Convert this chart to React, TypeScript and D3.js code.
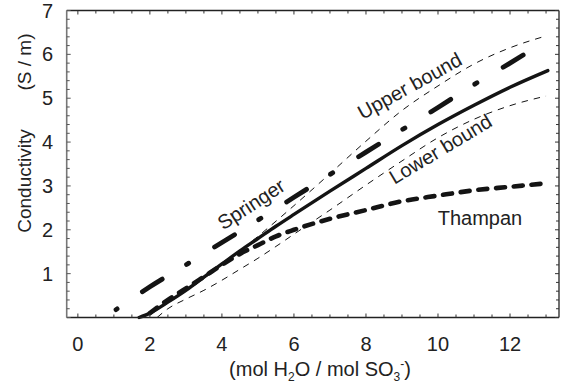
import React from "react";
import * as d3 from "d3";

// ---- data ----
const xTicks = [0, 2, 4, 6, 8, 10, 12];
const yTicks = [1, 2, 3, 4, 5, 6, 7];

const modelX = [1.7, 2, 2.5, 3, 3.5, 4, 4.5, 5, 5.5, 6, 7, 8, 9, 10, 11, 12, 13.05];
const modelY = [0, 0.1, 0.35, 0.62, 0.92, 1.22, 1.52, 1.8, 2.08, 2.35, 2.88, 3.4, 3.92, 4.4, 4.84, 5.25, 5.63];

const upperX = [1.7, 2, 3, 4, 5, 6, 7, 8, 9, 10, 11, 12, 13];
const upperY = [0, 0.1, 0.6, 1.2, 1.85, 2.55, 3.28, 4.02, 4.72, 5.28, 5.78, 6.15, 6.42];

const lowerX = [2.2, 2.5, 3, 3.5, 4, 4.5, 5, 5.5, 6, 7, 8, 9, 10, 11, 12, 13];
const lowerY = [0, 0.2, 0.42, 0.62, 0.85, 1.1, 1.35, 1.62, 1.9, 2.45, 3.02, 3.57, 4.1, 4.52, 4.83, 5.05];

const springerX = [1.06, 2, 3, 4, 5, 6, 7, 8, 9, 10, 11, 12, 13];
const springerY = [0.18, 0.7, 1.2, 1.71, 2.22, 2.74, 3.26, 3.77, 4.28, 4.79, 5.31, 5.8, 6.31];

const thampanX = [2.0, 2.5, 3, 3.5, 4, 4.5, 5, 5.5, 6, 7, 8, 9, 10, 11, 12, 13];
const thampanY = [0.1, 0.4, 0.66, 0.93, 1.2, 1.45, 1.65, 1.85, 2.0, 2.25, 2.45, 2.65, 2.78, 2.9, 2.98, 3.06];

const W = 564;
const H = 386;
const FONT = "'Liberation Sans', Arial, sans-serif";

export default function App() {
  const x = d3.scaleLinear().domain([-0.31, 13.36]).range([66.7, 559]);
  const y = d3.scaleLinear().domain([0, 7]).range([317.5, 10.5]);
  const [x0, x1] = x.range();
  const [y0, y1] = y.range();

  const line = d3
    .line<[number, number]>()
    .x((d) => x(d[0]))
    .y((d) => y(d[1]))
    .curve(d3.curveMonotoneX);

  const zip = (a: number[], b: number[]) => a.map((v, i) => [v, b[i]] as [number, number]);

  const xMinor = d3.range(0, 13.01, 0.5);
  const yMinor = d3.range(0, 7.001, 0.2);

  const ink = "#141414";

  return (
    <svg
      width={W}
      height={H}
      style={{ position: "absolute", left: 0, top: 0, background: "#fff" }}
      fontFamily={FONT}
    >
      {/* curves */}
      <path d={line(zip(upperX, upperY)) || ""} fill="none" stroke={ink} strokeWidth={1} strokeDasharray="6.5 6" />
      <path d={line(zip(lowerX, lowerY)) || ""} fill="none" stroke={ink} strokeWidth={1} strokeDasharray="6.5 6" />
      <path
        d={line(zip(thampanX, thampanY)) || ""}
        fill="none"
        stroke={ink}
        strokeWidth={4.6}
        strokeLinecap="round"
        strokeDasharray="9 8.8"
      />
      <path
        d={line(zip(springerX, springerY)) || ""}
        fill="none"
        stroke={ink}
        strokeWidth={4.8}
        strokeLinecap="round"
        strokeDasharray="2.5 30.5 23.5 28.5"
        strokeDashoffset={1.25}
      />
      <path d={line(zip(modelX, modelY)) || ""} fill="none" stroke={ink} strokeWidth={3.4} strokeLinecap="round" />

      {/* frame */}
      <line x1={x0} x2={x1} y1={y0} y2={y0} stroke="#222" strokeWidth={1.3} />
      <line x1={x0} x2={x1} y1={y1} y2={y1} stroke="#222" strokeWidth={1.3} />
      <line x1={x1} x2={x1} y1={y0} y2={y1} stroke="#222" strokeWidth={1.3} />
      <line x1={x0} x2={x0} y1={y0} y2={y1} stroke="#777" strokeWidth={1.6} />

      {/* ticks */}
      {xMinor.map((v) => {
        const major = Math.abs(v - Math.round(v)) < 1e-6 && Math.round(v) % 2 === 0;
        const len = major ? 4 : 3;
        return (
          <g key={"xt" + v}>
            <line x1={x(v)} x2={x(v)} y1={y0} y2={y0 - len} stroke="#333" strokeWidth={1} />
            <line x1={x(v)} x2={x(v)} y1={y1} y2={y1 + len} stroke="#333" strokeWidth={1} />
          </g>
        );
      })}
      {yMinor.map((v) => {
        const major = Math.abs(v - Math.round(v)) < 1e-6;
        const len = major ? 4 : 3;
        return (
          <g key={"yt" + v}>
            <line x1={x0} x2={x0 + len} y1={y(v)} y2={y(v)} stroke="#555" strokeWidth={1} />
            <line x1={x1} x2={x1 - len} y1={y(v)} y2={y(v)} stroke="#333" strokeWidth={1} />
          </g>
        );
      })}

      {/* tick labels */}
      {xTicks.map((v) => (
        <text key={"xl" + v} x={x(v)} y={351} textAnchor="middle" fontSize={20} fill="#222">
          {v}
        </text>
      ))}
      {yTicks.map((v) => (
        <text key={"yl" + v} x={53} y={y(v) + 7} textAnchor="end" fontSize={20} fill="#222">
          {v}
        </text>
      ))}

      {/* axis titles */}
      <text transform="translate(31,181) rotate(-90)" textAnchor="middle" fontSize={19} fill="#222">
        Conductivity
      </text>
      <text transform="translate(31,62) rotate(-90)" textAnchor="middle" fontSize={19} fill="#222">
        (S / m)
      </text>
      <text x={320} y={376} textAnchor="middle" fontSize={20} fill="#222">
        (mol H
        <tspan fontSize={12} dy={5}>2</tspan>
        <tspan dy={-5}>O / mol SO</tspan>
        <tspan fontSize={12} dy={5}>3</tspan>
        <tspan fontSize={12} dy={-13}>-</tspan>
        <tspan dy={8}>)</tspan>
      </text>

      {/* curve labels */}
      <text transform="translate(255,210) rotate(-33)" textAnchor="middle" fontSize={20} fill="#222">
        Springer
      </text>
      <text transform="translate(413,92) rotate(-29)" textAnchor="middle" fontSize={20} fill="#222">
        Upper bound
      </text>
      <text transform="translate(444,155) rotate(-31)" textAnchor="middle" fontSize={20} fill="#222">
        Lower bound
      </text>
      <text x={480} y={225} textAnchor="middle" fontSize={20} fill="#222">
        Thampan
      </text>
    </svg>
  );
}
